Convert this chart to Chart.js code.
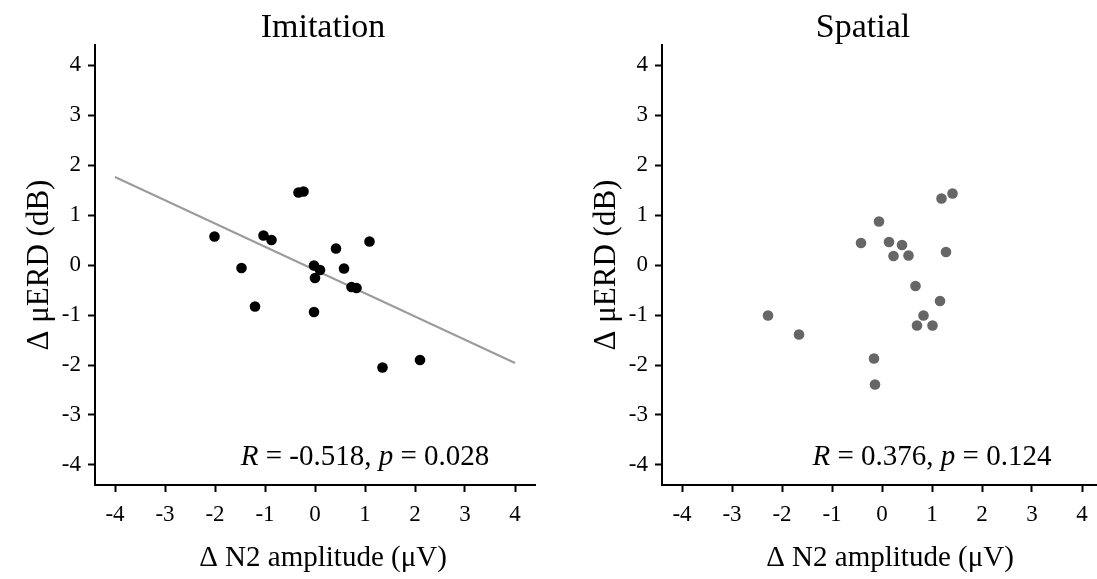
<!DOCTYPE html>
<html>
<head>
<meta charset="utf-8">
<script src="https://cdn.jsdelivr.net/npm/chart.js@4/dist/chart.umd.min.js"></script>
<style>
  html, body { margin: 0; padding: 0; background: #fff; overflow: hidden; }
  body { width: 1097px; height: 579px; position: relative; }
  canvas { position: absolute; top: 0; }
  #imitationChart { left: 0; }
  #spatialChart { left: 567px; }
</style>
</head>
<body>
<canvas id="imitationChart" width="548" height="579"></canvas>
<canvas id="spatialChart" width="548" height="579"></canvas>
<script>
// --- data ---
const tickValues = [-4, -3, -2, -1, 0, 1, 2, 3, 4];

const imitationX = [-0.33, -0.23, -2.01, -1.03, -0.87, -1.47, -1.20, -0.02, 0.10, 0.00, -0.02, 0.42, 0.58, 1.09, 0.73, 0.83, 1.35, 2.10];
const imitationY = [1.45, 1.47, 0.57, 0.59, 0.50, -0.06, -0.83, -0.01, -0.10, -0.26, -0.94, 0.33, -0.07, 0.47, -0.44, -0.46, -2.05, -1.90];
const imitationFitX = [-4, 4];
const imitationFitY = [1.76, -1.96];

const spatialX = [1.41, 1.19, -0.06, -0.42, 0.14, 0.40, 0.23, 0.53, 1.28, 0.67, 1.16, 0.83, 0.70, 1.01, -2.28, -1.66, -0.16, -0.14];
const spatialY = [1.43, 1.33, 0.87, 0.44, 0.46, 0.40, 0.18, 0.19, 0.26, -0.42, -0.72, -1.01, -1.21, -1.21, -1.01, -1.39, -1.87, -2.39];

const imitationStats = { r: '-0.518', p: '0.028' };
const spatialStats = { r: '0.376', p: '0.124' };

const xTitle = '\u0394 N2 amplitude (\u03bcV)';
const yTitle = '\u0394 \u03bcERD (dB)';

const serif = "'Liberation Serif', 'Times New Roman', serif";

// panel title, x axis title and R/p annotation
const panelText = {
  id: 'panelText',
  afterDraw(chart, args, opts) {
    const ctx = chart.ctx;
    const area = chart.chartArea;
    ctx.save();
    ctx.fillStyle = '#000';
    ctx.textBaseline = 'alphabetic';
    ctx.textAlign = 'center';
    ctx.font = '34px ' + serif;
    ctx.fillText(opts.title, opts.titleX, 37);

    ctx.font = '29px ' + serif;
    ctx.fillText(xTitle, (area.left + area.right) / 2 + 8, 566);

    const segs = [
      ['R', true], [' = ' + opts.stats.r + ', ', false],
      ['p', true], [' = ' + opts.stats.p, false]
    ];
    const fontOf = it => (it ? 'italic ' : '') + '29px ' + serif;
    let total = 0;
    segs.forEach(s => { ctx.font = fontOf(s[1]); total += ctx.measureText(s[0]).width; });
    let x = chart.scales.x.getPixelForValue(1) - total / 2;
    const y = chart.scales.y.getPixelForValue(-4);
    ctx.textAlign = 'left';
    segs.forEach(s => {
      ctx.font = fontOf(s[1]);
      ctx.fillText(s[0], x, y);
      x += ctx.measureText(s[0]).width;
    });
    ctx.restore();
  }
};

function axis(horizontal) {
  return {
    type: 'linear',
    min: -4.4,
    max: 4.4,
    afterBuildTicks: s => { s.ticks = tickValues.map(v => ({ value: v })); },
    afterFit: s => {
      if (horizontal) s.height = 94; else s.width = 95;
    },
    grid: {
      drawOnChartArea: false,
      drawTicks: true,
      tickLength: 7,
      tickColor: '#000',
      tickWidth: 2
    },
    border: { display: true, color: '#000', width: 2 },
    ticks: {
      color: '#000',
      padding: horizontal ? 9 : 7,
      maxRotation: 0,
      font: { family: serif, size: 23 },
      callback: v => String(v)
    },
    title: {
      display: !horizontal,
      text: yTitle,
      color: '#000',
      font: { family: serif, size: 31 },
      padding: { top: 21, bottom: 0 }
    }
  };
}

function makePanel(id, title, titleX, xs, ys, color, stats, fitX, fitY) {
  const datasets = [{
    type: 'scatter',
    data: xs.map((x, i) => ({ x: x, y: ys[i] })),
    backgroundColor: color,
    borderColor: color,
    pointRadius: 5.3,
    pointHoverRadius: 5.3,
    borderWidth: 0,
    order: 1
  }];
  if (fitX) {
    datasets.push({
      type: 'line',
      data: fitX.map((x, i) => ({ x: x, y: fitY[i] })),
      borderColor: '#9b9b9b',
      borderWidth: 2,
      pointRadius: 0,
      fill: false,
      order: 2
    });
  }
  new Chart(document.getElementById(id), {
    type: 'scatter',
    data: { datasets },
    options: {
      responsive: false,
      animation: false,
      layout: { padding: { top: 45, right: 13, left: 0, bottom: 0 } },
      plugins: {
        legend: { display: false },
        tooltip: { enabled: false },
        panelText: { title: title, titleX: titleX, stats: stats }
      },
      scales: {
        x: axis(true),
        y: axis(false)
      }
    },
    plugins: [panelText]
  });
}

makePanel('imitationChart', 'Imitation', 323, imitationX, imitationY, '#000', imitationStats, imitationFitX, imitationFitY);
makePanel('spatialChart', 'Spatial', 296, spatialX, spatialY, '#666', spatialStats, null, null);
</script>
</body>
</html>
